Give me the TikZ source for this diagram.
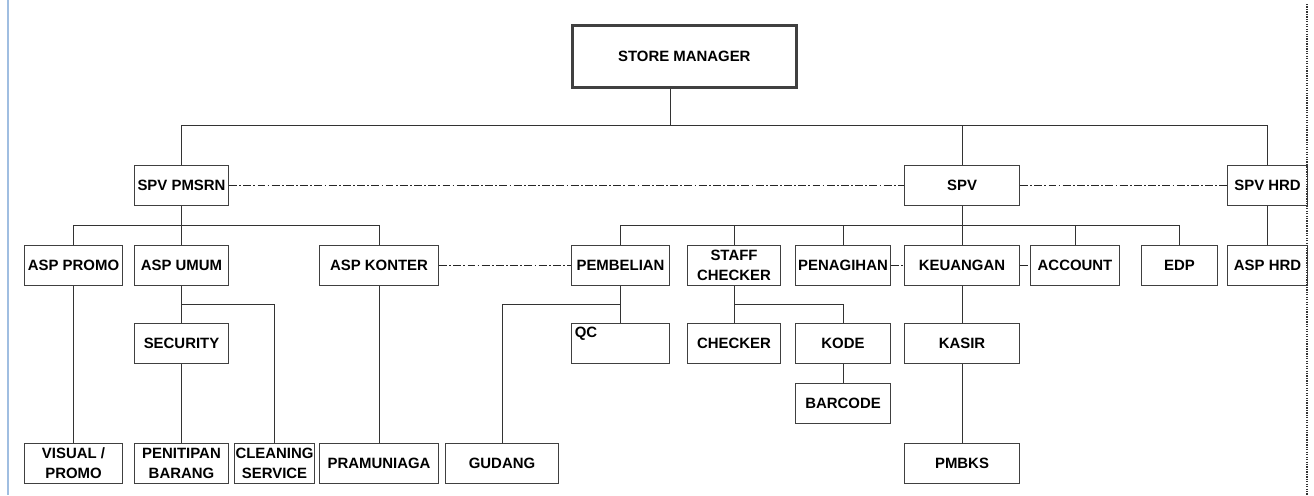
\documentclass[tikz,border=0pt]{standalone}
\usepackage{fontspec}
\setmainfont{Liberation Sans}
\usepackage{tikz}
\usetikzlibrary{calc}

\definecolor{gridblue}{RGB}{160,190,225}

\tikzset{
  jabatan/.style={rectangle, draw=black!75, line width=0.6pt, fill=white, anchor=north west, minimum height = 0.8cm, inner sep=0pt, align=center, font=\bfseries\fontsize{8.5}{11.3}\selectfont},
  garis/.style={draw=black!80, line width=0.55pt},
  garistitik/.style={draw=black!85, line width=0.6pt, dash pattern=on 4.5pt off 1.3pt on 1pt off 1.3pt},
}

\begin{document}
\begin{tikzpicture}[x=0.02cm, y=-0.02cm]

\useasboundingbox (0,0) rectangle (1314,495);
\draw[gridblue, line width=0.8pt] (8,0) -- (8,495);

\node at (571,24) [jabatan, line width=1.5pt, minimum height = 1.24cm, minimum width = 4.48cm] (sm) {STORE MANAGER};

\node at (134,165) [jabatan, minimum width = 1.88cm] (spvp) {SPV PMSRN};
\node at (904,165) [jabatan, minimum width = 2.3cm] (spv) {SPV};
\node at (1227,165) [jabatan, minimum width = 1.6cm] (spvhrd) {SPV HRD};

\node at (24,245) [jabatan, minimum width = 1.96cm] (promo) {ASP PROMO};
\node at (134,245) [jabatan, minimum width = 1.88cm] (umum) {ASP UMUM};
\node at (319,245) [jabatan, minimum width = 2.38cm] (konter) {ASP KONTER};
\node at (571,245) [jabatan, minimum width = 1.96cm] (pemb) {PEMBELIAN};
\node at (687,245) [jabatan, minimum width = 1.86cm] (staff) {STAFF\\CHECKER};
\node at (795,245) [jabatan, minimum width = 1.9cm] (penag) {PENAGIHAN};
\node at (904,245) [jabatan, minimum width = 2.3cm] (keu) {KEUANGAN};
\node at (1030,245) [jabatan, minimum width = 1.78cm] (acct) {ACCOUNT};
\node at (1141,245) [jabatan, minimum width = 1.52cm] (edp) {EDP};
\node at (1227,245) [jabatan, minimum width = 1.6cm] (asphrd) {ASP HRD};

\node at (134,323) [jabatan, minimum width = 1.88cm] (secur) {SECURITY};
\node at (571,323) [jabatan, minimum width = 1.96cm, label={[anchor=north west, inner sep=2pt, font=\bfseries\fontsize{8.5}{11.3}\selectfont]north west:QC}] (qc) {};
\node at (687,323) [jabatan, minimum width = 1.86cm] (checker) {CHECKER};
\node at (795,323) [jabatan, minimum width = 1.9cm] (kode) {KODE};
\node at (904,323) [jabatan, minimum width = 2.3cm] (kasir) {KASIR};
\node at (795,383) [jabatan, minimum width = 1.9cm] (barcode) {BARCODE};

\node at (24,443) [jabatan, minimum width = 1.96cm] (visual) {VISUAL /\\PROMO};
\node at (134,443) [jabatan, minimum width = 1.88cm] (penit) {PENITIPAN\\BARANG};
\node at (234,443) [jabatan, minimum width = 1.6cm] (clean) {CLEANING\\SERVICE};
\node at (319,443) [jabatan, minimum width = 2.38cm] (pram) {PRAMUNIAGA};
\node at (445,443) [jabatan, minimum width = 2.26cm] (gudang) {GUDANG};
\node at (904,443) [jabatan, minimum width = 2.3cm] (pmbks) {PMBKS};

% jalur garis
\coordinate (busatas) at (0,125);
\coordinate (busA) at (0,225);
\coordinate (busB) at (0,304);

\draw[garis] ($(sm.south)+(-14,0)$) -- ($(sm.south |- busatas)+(-14,0)$);
\draw[garis] (spvp.north) |- (spvhrd.north |- busatas) -- (spvhrd.north);
\draw[garis] (spv.north) -- (spv.north |- busatas);

\draw[garis] (promo.north) |- (konter.north |- busA) -- (konter.north);
\draw[garis] (spvp.south) -- (umum.north);
\draw[garis] (pemb.north) |- (edp.north |- busA) -- (edp.north);
\draw[garis] (spv.south) -- (keu.north);
\draw[garis] (staff.north) -- (staff.north |- busA);
\draw[garis] (penag.north) -- (penag.north |- busA);
\draw[garis] (acct.north) -- (acct.north |- busA);
\draw[garis] (spvhrd.south) -- (asphrd.north);

\draw[garistitik] (spvp.east) -- (spv.west);
\draw[garistitik] (spv.east) -- (spvhrd.west);
\draw[garistitik] (konter.east) -- (pemb.west);
\draw[garistitik] (penag.east) -- (keu.west);
\draw[garistitik] (keu.east) -- (acct.west);

\draw[garis] (promo.south) -- (visual.north);
\draw[garis] (umum.south) -- (secur.north);
\draw[garis] (umum.south |- busB) -| (clean.north);
\draw[garis] (secur.south) -- (penit.north);
\draw[garis] (konter.south) -- (pram.north);
\draw[garis] (pemb.south) -- (qc.north);
\draw[garis] (pemb.south |- busB) -| (gudang.north);
\draw[garis] (staff.south) -- (checker.north);
\draw[garis] (staff.south |- busB) -| (kode.north);
\draw[garis] (kode.south) -- (barcode.north);
\draw[garis] (keu.south) -- (kasir.north);
\draw[garis] (kasir.south) -- (pmbks.north);

\draw[black!80, line width=0.6pt, dash pattern=on 0.7pt off 0.7pt] (1307,4) -- (1307,495);

\end{tikzpicture}
\end{document}
